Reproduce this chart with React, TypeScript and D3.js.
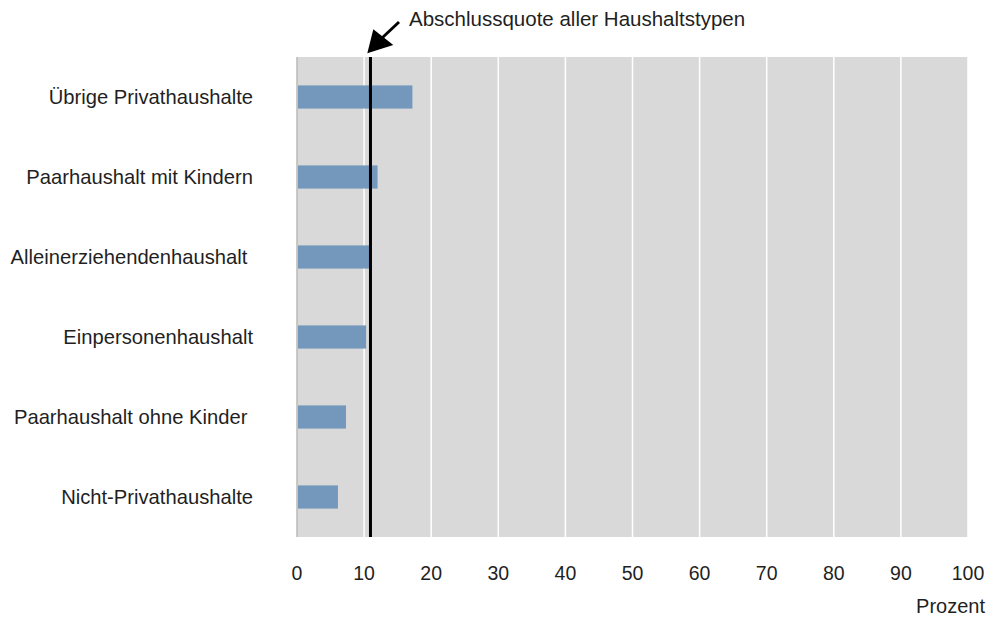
import React from "react";
import * as d3 from "d3";

const categories = [
  "Übrige Privathaushalte",
  "Paarhaushalt mit Kindern",
  "Alleinerziehendenhaushalt ",
  "Einpersonenhaushalt",
  "Paarhaushalt ohne Kinder ",
  "Nicht-Privathaushalte",
];
const values = [17.2, 12.0, 10.8, 10.3, 7.3, 6.1];
const referenceValue = 10.95;
const referenceLabel = "Abschlussquote aller Haushaltstypen";
const xTicks = [0, 10, 20, 30, 40, 50, 60, 70, 80, 90, 100];
const xAxisTitle = "Prozent";

const W = 997;
const H = 621;
const left = 297;
const right = 968;
const top = 57;
const bottom = 537;
const FONT = "'Liberation Sans', Arial, sans-serif";
const TXT = "#1f1f1f";

export default function App() {
  const x = d3.scaleLinear().domain([0, 100]).range([left, right]);
  const y = d3.scaleBand<string>().domain(categories).range([top, bottom]).paddingInner(0.71).paddingOuter(0.355);
  const rx = x(referenceValue);
  return (
    <svg width={W} height={H} style={{ position: "absolute", left: 0, top: 0 }}>
      <rect x={0} y={0} width={W} height={H} fill="#ffffff" />
      <rect x={left} y={top} width={right - left} height={bottom - top} fill="#d9d9d9" />
      {xTicks.slice(1).map((t) => (
        <line key={t} x1={x(t)} x2={x(t)} y1={top} y2={bottom} stroke="#ffffff" strokeWidth={1.5} />
      ))}
      <line x1={left} x2={left} y1={top} y2={bottom} stroke="#bdb7b5" strokeWidth={1.5} />
      {categories.map((c, i) => (
        <rect key={c} x={x(0) + 1} y={y(c)!} width={x(values[i]) - x(0) - 1} height={y.bandwidth()} fill="#7498bb" />
      ))}
      <line x1={rx} x2={rx} y1={top} y2={bottom} stroke="#000" strokeWidth={3} />
      {categories.map((c) => (
        <text
          key={c}
          x={253}
          y={y(c)! + y.bandwidth() / 2}
          dy="0.35em"
          textAnchor="end"
          fontFamily={FONT}
          fontSize={20.2}
          fill={TXT}
          style={{ whiteSpace: "pre" }}
        >
          {c}
        </text>
      ))}
      {xTicks.map((t) => (
        <text key={t} x={x(t)} y={580} textAnchor="middle" fontFamily={FONT} fontSize={19.5} fill={TXT}>
          {t}
        </text>
      ))}
      <text x={985} y={613} textAnchor="end" fontFamily={FONT} fontSize={20} fill={TXT}>
        {xAxisTitle}
      </text>
      <line x1={399} x2={382} y1={22} y2={38} stroke="#000" strokeWidth={3} />
      <path d="M367.3,53.3 L373.3,29.3 L393.3,45 Z" fill="#000" />
      <text x={409} y={26} fontFamily={FONT} fontSize={20.5} fill={TXT}>
        {referenceLabel}
      </text>
    </svg>
  );
}
